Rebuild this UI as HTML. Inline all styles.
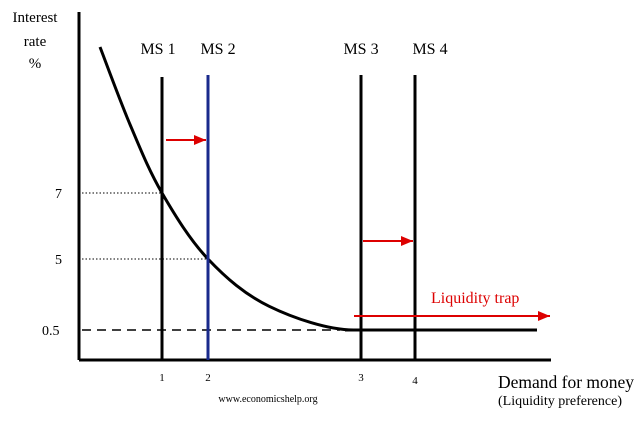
<!DOCTYPE html>
<html><head><meta charset="utf-8"><style>
body{margin:0;background:#fff;width:640px;height:425px;overflow:hidden}
svg text{font-family:"Liberation Serif",serif}
</style></head><body>
<svg id="c" width="640" height="425" viewBox="0 0 640 425">
<defs><marker id="ah" markerWidth="6" markerHeight="5" refX="6" refY="2.5" orient="auto" markerUnits="strokeWidth"><path d="M0,0 L6,2.5 L0,5 Z" fill="#d00"/></marker></defs>
<g id="g"></g>
</svg>
<script>
const rateTicks=[0.5,5,7];
const rateLabels=["0.5","5","7"];
const qtyTicks=[1,2,3,4];
const qtyLabels=["1","2","3","4"];
const msNames=["MS 1","MS 2","MS 3","MS 4"];
const msColors=["#000","#1a2a8c","#000","#000"];
// demand curve sample points (quantity, rate)
const curveQ=[0.2,0.59,1,2,2.4,2.95];
const curveR=[11.4,9.05,7,5,2.0,0.5];
// piecewise axis anchors (schematic axes)
const rAnchor=[0.5,5,7,11.4], rPix=[330,259,193,47];
const qAnchor=[0.2,1,2,3,4], qPix=[100,162,208,361,415];
function interp(v,a,p){let i=0;if(v<=a[0])i=0;else if(v>=a[a.length-1])i=a.length-2;else while(v>a[i+1])i++;return p[i]+(v-a[i])*(p[i+1]-p[i])/(a[i+1]-a[i]);}
const y=v=>interp(v,rAnchor,rPix), x=v=>interp(v,qAnchor,qPix);
const g=document.getElementById('g');const NS="http://www.w3.org/2000/svg";
function el(t,a,txt){const e=document.createElementNS(NS,t);for(const k in a)e.setAttribute(k,a[k]);if(txt!==undefined)e.textContent=txt;g.appendChild(e);return e;}
let e;
e=el('line',{x1:79,y1:12,x2:79,y2:360,stroke:'#000','stroke-width':3});


e=el('line',{x1:79,y1:360,x2:551,y2:360,stroke:'#000','stroke-width':3});


e=el('text',{x:35,y:22,'font-size':15,'text-anchor':'middle'},'Interest');


e=el('text',{x:35,y:46,'font-size':15,'text-anchor':'middle'},'rate');


e=el('text',{x:35,y:68,'font-size':15,'text-anchor':'middle'},'%');


e=el('text',{x:566,y:388,'font-size':17.5,'text-anchor':'middle'},'Demand for money');


e=el('text',{x:560,y:405,'font-size':14,'text-anchor':'middle'},'(Liquidity preference)');


e=el('text',{x:268,y:402,'font-size':10,'text-anchor':'middle'},'www.economicshelp.org');


rateTicks.forEach((r,i)=>{
 e=el('text',{x:r<1?42:55,y:y(r)+5,'font-size':14},rateLabels[i]);
 
 
});
qtyTicks.forEach((q,i)=>{
 e=el('text',{x:x(q),y:i==3?384:381,'font-size':11,'text-anchor':'middle'},qtyLabels[i]);
 
 
});
[7,5].forEach((r,i)=>{
 e=el('line',{x1:82,y1:y(r),x2:x(i+1),y2:y(r),stroke:'#000','stroke-width':1,'stroke-dasharray':'1.5,2'});
 
 
});
e=el('line',{x1:82,y1:y(0.5),x2:340,y2:y(0.5),stroke:'#000','stroke-width':1.5,'stroke-dasharray':'9,6'});


e=el('line',{x1:345,y1:y(0.5),x2:537,y2:y(0.5),stroke:'#000','stroke-width':3});


const P=curveQ.map((q,i)=>[x(q),y(curveR[i])]);
let d=`M${P[0][0]},${P[0][1]}`;
for(let i=0;i<P.length-1;i++){
 const p0=P[Math.max(0,i-1)],p1=P[i],p2=P[i+1],p3=P[Math.min(P.length-1,i+2)];
 const c1=[p1[0]+(p2[0]-p0[0])/6,p1[1]+(p2[1]-p0[1])/6];
 let c2=[p2[0]-(p3[0]-p1[0])/6,p2[1]-(p3[1]-p1[1])/6];
 if(i==P.length-2)c2=[p2[0]-25,p2[1]];
 d+=` C${c1[0]},${c1[1]} ${c2[0]},${c2[1]} ${p2[0]},${p2[1]}`;
}
e=el('path',{d:d,fill:'none',stroke:'#000','stroke-width':3});


const msTop=[77,75,75,75];
const labOff=[-4,10,0,15];
qtyTicks.forEach((q,i)=>{
 e=el('line',{x1:x(q),y1:msTop[i],x2:x(q),y2:360,stroke:msColors[i],'stroke-width':3});
 
 
 e=el('text',{x:x(q)+labOff[i],y:54,'font-size':16,'text-anchor':'middle'},msNames[i]);
 
 
});
e=el('line',{x1:x(1)+4,y1:140,x2:x(2)-2,y2:140,stroke:'#d00','stroke-width':2,'marker-end':'url(#ah)'});


e=el('line',{x1:x(3)+2,y1:241,x2:x(4)-2,y2:241,stroke:'#d00','stroke-width':2,'marker-end':'url(#ah)'});


e=el('line',{x1:354,y1:316,x2:550,y2:316,stroke:'#d00','stroke-width':2,'marker-end':'url(#ah)'});


e=el('text',{x:431,y:303,'font-size':16,fill:'#d00'},'Liquidity trap');


</script>
</body></html>
